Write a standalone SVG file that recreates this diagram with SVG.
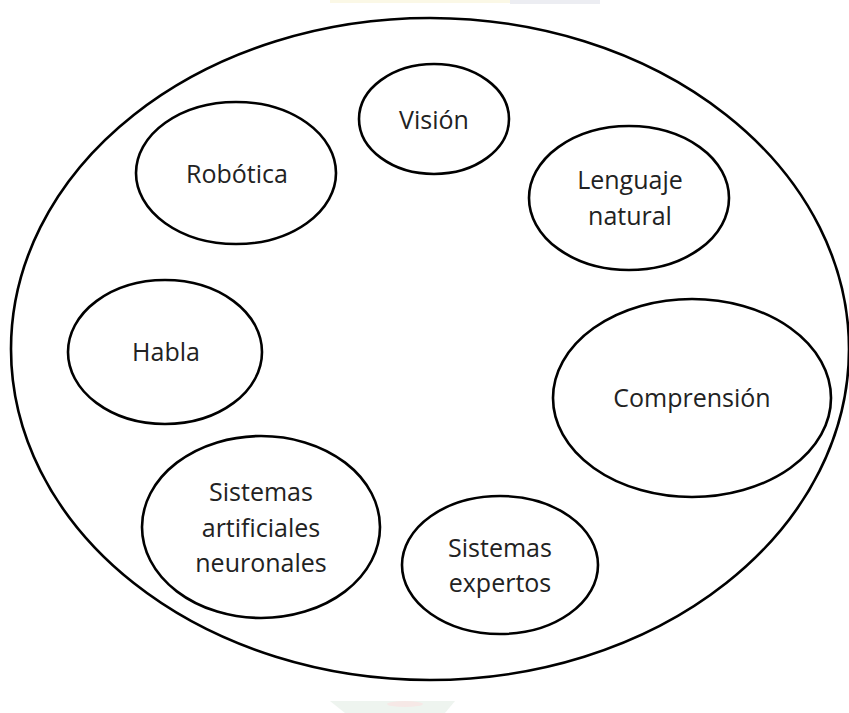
<svg xmlns="http://www.w3.org/2000/svg" width="849" height="713" viewBox="0 0 849 713">
  <style>
    .ring { fill: none; stroke: #000; stroke-width: 2.6; }
    .node ellipse { fill: #fff; stroke: #000; stroke-width: 2.6; }
    .node text { font-family: "Open Sans", "Liberation Sans", sans-serif; font-size: 25px; fill: #222; text-anchor: middle; }
    .tint { stroke: none; }
  </style>
  <rect width="849" height="713" fill="#fff"/>
  <!-- faint background marks at the upper and lower edges -->
  <g id="fondo">
    <rect class="tint" x="330" y="0" width="180" height="3" fill="#fbf8e6"/>
    <rect class="tint" x="510" y="0" width="90" height="4" fill="#ecedf2"/>
    <path class="tint" d="M330,701 L455,701 L445,713 L345,713 Z" fill="#eef4ef"/>
    <ellipse class="tint" cx="405" cy="704" rx="18" ry="3" fill="#f6e8e6"/>
  </g>
  <!-- enclosing field -->
  <g id="campo">
    <ellipse class="ring" cx="430" cy="349" rx="419" ry="331"/>
  </g>
  <g id="connectors"/>
  <g id="vision" class="node">
    <ellipse cx="434" cy="119" rx="75" ry="55"/>
    <text x="434" y="129">Visión</text>
  </g>
  <g id="robotica" class="node">
    <ellipse cx="236" cy="173" rx="100" ry="71"/>
    <text x="237" y="183">Robótica</text>
  </g>
  <g id="lenguaje-natural" class="node">
    <ellipse cx="629" cy="198" rx="100" ry="72"/>
    <text x="630" y="189">Lenguaje</text>
    <text x="630" y="225">natural</text>
  </g>
  <g id="habla" class="node">
    <ellipse cx="165" cy="352" rx="97" ry="72"/>
    <text x="166" y="361">Habla</text>
  </g>
  <g id="comprension" class="node">
    <ellipse cx="692" cy="398" rx="139" ry="99"/>
    <text x="692" y="407">Comprensión</text>
  </g>
  <g id="sistemas-neuronales" class="node">
    <ellipse cx="261" cy="527" rx="119" ry="91"/>
    <text x="261" y="501">Sistemas</text>
    <text x="261" y="537">artificiales</text>
    <text x="261" y="572">neuronales</text>
  </g>
  <g id="sistemas-expertos" class="node">
    <ellipse cx="500" cy="565" rx="98" ry="69"/>
    <text x="500" y="557">Sistemas</text>
    <text x="500" y="592">expertos</text>
  </g>
</svg>
